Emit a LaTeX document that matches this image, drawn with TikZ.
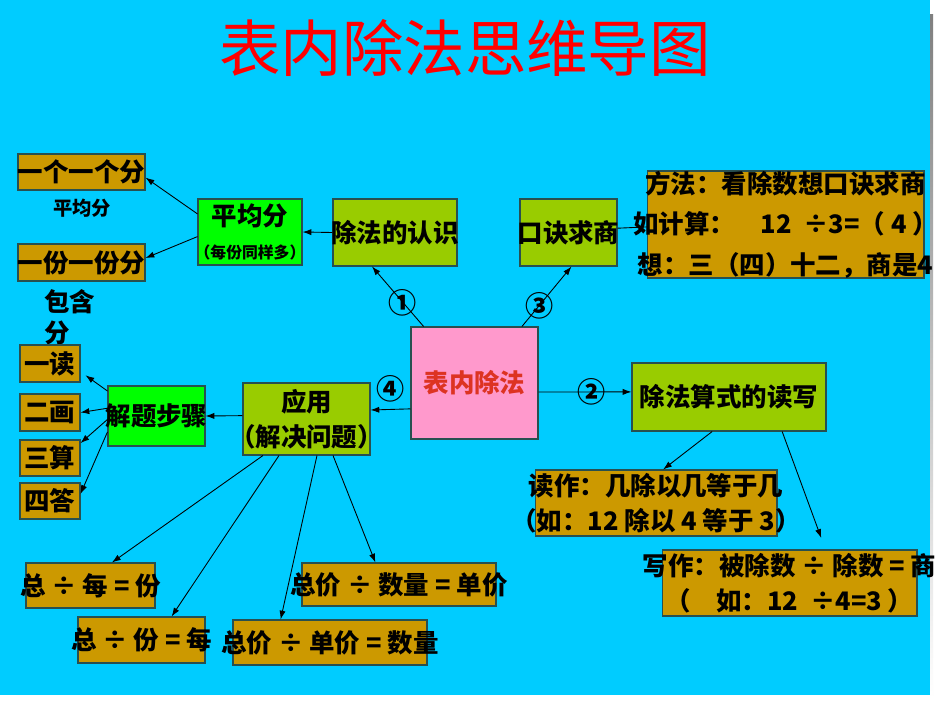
\documentclass[tikz,border=0pt]{standalone}
\usepackage{fontspec}
\newfontfamily\cjk{Noto Sans CJK SC}
\usetikzlibrary{arrows.meta}
\definecolor{sky}{RGB}{0,204,255}
\definecolor{olivebox}{RGB}{153,204,0}
\definecolor{goldbox}{RGB}{204,153,0}
\definecolor{greenbox}{RGB}{0,255,0}
\definecolor{pinkbox}{RGB}{255,153,204}
\definecolor{boxline}{RGB}{40,80,80}
\definecolor{rootred}{RGB}{221,51,34}
\definecolor{shade}{RGB}{228,228,228}
% text that may run over the edge of its box
\newcommand{\ovr}[1]{\makebox[0pt]{#1}}
\tikzset{
  box/.style={draw=boxline, line width=0.6pt, inner sep=0pt, align=center,
    font=\cjk\bfseries\fontsize{14.5}{20}\selectfont},
  lime/.style={box, fill=olivebox},
  gold/.style={box, fill=goldbox},
  bright/.style={box, fill=greenbox},
  arr/.style={-{Latex[length=5pt,width=3.5pt]}, line width=0.5pt},
  num/.style={font=\cjk\bfseries\fontsize{16}{16}\selectfont, inner sep=0pt},
  plain/.style={font=\cjk\bfseries\fontsize{14.5}{18}\selectfont, inner sep=0pt},
}
\begin{document}
\begin{tikzpicture}[x=0.02cm, y=-0.02cm]
  \useasboundingbox (0,0) rectangle (950,713);
  % slide background
  \fill[white] (0,0) rectangle (950,713);
  \fill[shade] (16,15) rectangle (933,698);
  \fill[sky] (0,0) rectangle (930,695);
  % title
  \node[font=\cjk\fontsize{35}{40}\selectfont, text=red] (title) at (465,48) {表内除法思维导图};
  % root
  \node[box, fill=pinkbox, minimum width=2.54cm, minimum height=2.24cm, text=rootred] (root) at (474.5,383) {表内除法};
  % upper branches
  \node[lime, minimum width=2.48cm, minimum height=1.34cm] (renshi) at (395,232.5) {\ovr{除法的认识}};
  \node[lime, minimum width=1.94cm, minimum height=1.34cm] (koujue) at (568.5,232.5) {\ovr{口诀求商}};
  \node[gold, minimum width=5.54cm, minimum height=1.94cm, font=\cjk\bfseries\fontsize{14.5}{23}\selectfont] (fangfa) at (785.5,224.5)
    {\ovr{方法：看除数想口诀求商}\\ \ovr{如计算：\quad 12 \ ÷3=（ 4 ）}\\ \ovr{想：三（四）十二，商是4}};
  \node[bright, minimum width=2.08cm, minimum height=1.32cm] (pingjun) at (250,232)
    {平均分\\[-1pt] {\fontsize{9}{10}\selectfont\ovr{（每份同样多）}}};
  \node[gold, minimum width=2.54cm, minimum height=0.72cm] (yige) at (81.5,172) {\ovr{一个一个分}};
  \node[gold, minimum width=2.54cm, minimum height=0.74cm] (yifen) at (81.5,262.5) {\ovr{一份一份分}};
  \node[font=\cjk\bfseries\fontsize{11}{11}\selectfont] (pjlabel) at (82,208) {平均分};
  \node[plain, anchor=north west, align=left] (baohan) at (44,289) {包含\\分};
  % right branch
  \node[lime, minimum width=3.88cm, minimum height=1.36cm] (dushi) at (729,397) {\ovr{除法算式的读写}};
  \node[gold, minimum width=4.84cm, minimum height=1.32cm] (duzuo) at (656,503)
    {\ovr{读作：几除以几等于几}\\ \ovr{（如：12 除以 4 等于 3）}};
  \node[gold, minimum width=5.1cm, minimum height=1.32cm] (xiezuo) at (789.5,583)
    {\ovr{写作：被除数 ÷ 除数 = 商}\\ \ovr{（\quad 如：12 \ ÷4=3 ）}};
  % left branch
  \node[lime, minimum width=2.54cm, minimum height=1.44cm] (yingyong) at (306.5,419)
    {应用\\ \ovr{（解决问题）}};
  \node[bright, minimum width=1.94cm, minimum height=1.2cm] (jieti) at (156.5,416) {\ovr{解题步骤}};
  \node[gold, minimum width=1.2cm, minimum height=0.74cm] (yidu) at (50,363.5) {一读};
  \node[gold, minimum width=1.2cm, minimum height=0.74cm] (erhua) at (50,412.5) {二画};
  \node[gold, minimum width=1.2cm, minimum height=0.72cm] (sansuan) at (50,458) {三算};
  \node[gold, minimum width=1.2cm, minimum height=0.72cm] (sida) at (50,501) {四答};
  % formulas
  \node[gold, minimum width=2.58cm, minimum height=0.9cm] (mei) at (90.5,585.5) {\ovr{总 ÷ 每 = 份}};
  \node[gold, minimum width=2.54cm, minimum height=0.92cm] (fen) at (141.5,640) {\ovr{总 ÷ 份 = 每}};
  \node[gold, minimum width=3.88cm, minimum height=0.9cm] (shuliang) at (330,642.5) {\ovr{总价 ÷ 单价 = 数量}};
  \node[gold, minimum width=3.88cm, minimum height=0.86cm] (danjia) at (399,584.5) {\ovr{总价 ÷ 数量 = 单价}};
  % connectors from the root
  \draw[arr] (root.132.6) -- node[num, pos=0.4] {①} (renshi.236.3);
  \draw[arr] (root.50.9) -- node[num, pos=0.35] {③} (koujue.275.8);
  \draw[arr] (root.-8.07) -- node[num, pos=0.57] {②} (dushi.177.05);
  \draw[arr] (root.202.3) -- node[num, above=4pt] {④} (yingyong.8.95);
  % upper connectors
  \draw[arr] (renshi.west) -- (pingjun.east);
  \draw[line width=0.5pt] (koujue.5.3) -- (fangfa.181.45);
  \draw[arr] (pingjun.161.9) -- (yige.-5.2);
  \draw[arr] (pingjun.185.5) -- (yifen.4.8);
  % right connectors
  \draw[arr] (dushi.244.8) -- (duzuo.78);
  \draw[arr, shorten >=7pt] (dushi.327.3) -- (xiezuo.43.3);
  % left connectors
  \draw[arr] (yingyong.177.3) -- (jieti.east);
  \draw[arr, shorten >=3.5pt] (jieti.153.7) -- (yidu.-15.8);
  \draw[arr] (jieti.171.8) -- (erhua.east);
  \draw[arr] (jieti.184.7) -- (sansuan.26.6);
  \draw[arr] (jieti.198.3) -- (sida.13.1);
  \draw[arr] (yingyong.220.9) -- (mei.47.1);
  \draw[arr] (yingyong.233.6) -- (fen.38.9);
  \draw[arr] (yingyong.286.3) -- (shuliang.155.9);
  \draw[arr] (yingyong.306.4) -- (danjia.137.5);
\end{tikzpicture}
\end{document}
